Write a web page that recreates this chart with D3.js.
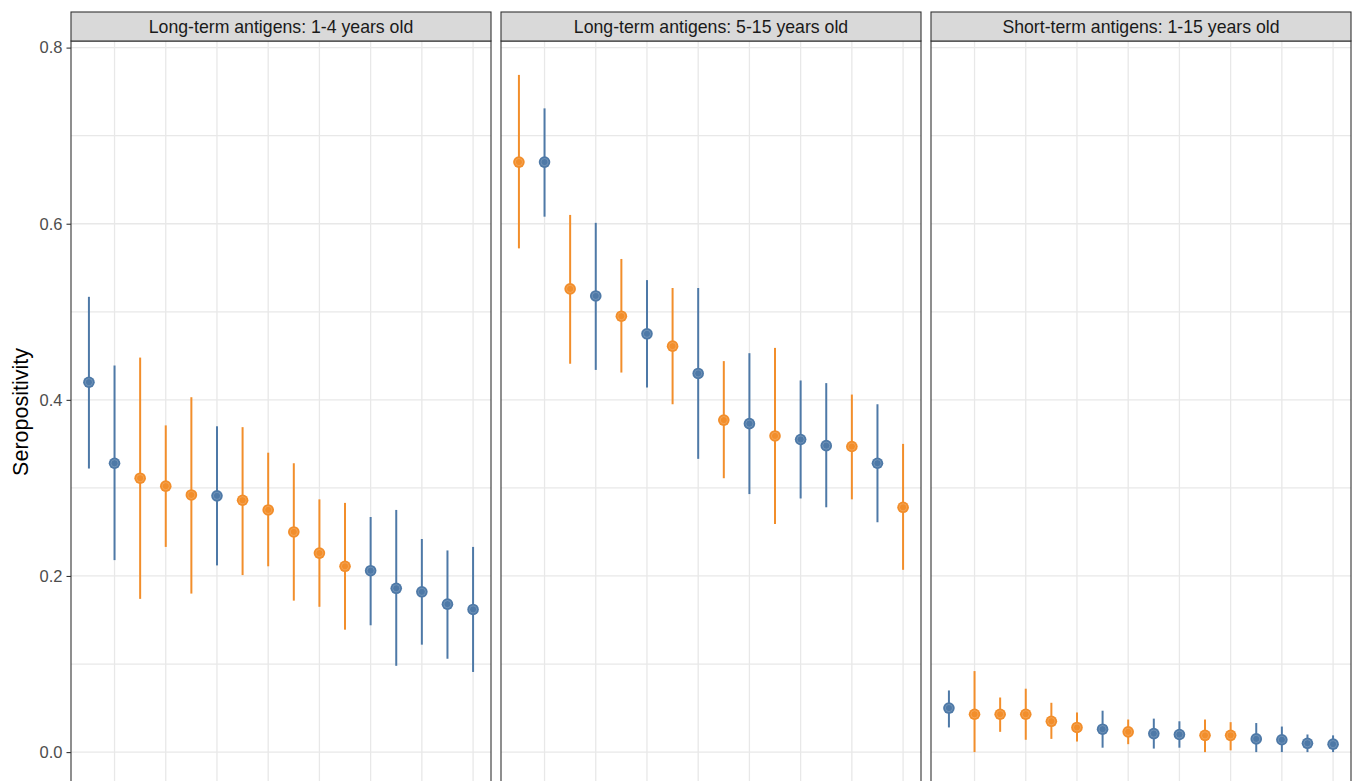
<!DOCTYPE html>
<html>
<head>
<meta charset="utf-8">
<script src="https://cdn.jsdelivr.net/npm/d3@7"></script>
<style>
  body { margin: 0; background: #fff; }
  svg { display: block; font-family: "Liberation Sans", Arial, sans-serif; }
</style>
</head>
<body>
<div id="chart"></div>
<script>
// facet titles
const facets = [
  "Long-term antigens: 1-4 years old",
  "Long-term antigens: 5-15 years old",
  "Short-term antigens: 1-15 years old"
];

// group of each point: "b" = blue, "o" = orange
const grp1 = ["b","b","o","o","o","b","o","o","o","o","o","b","b","b","b","b"];
const est1 = [0.420,0.328,0.311,0.302,0.292,0.291,0.286,0.275,0.250,0.226,0.211,0.206,0.186,0.182,0.168,0.162];
const lo1  = [0.322,0.218,0.174,0.233,0.180,0.212,0.201,0.211,0.172,0.165,0.139,0.144,0.098,0.122,0.106,0.091];
const hi1  = [0.517,0.439,0.448,0.371,0.403,0.370,0.369,0.340,0.328,0.287,0.283,0.267,0.275,0.242,0.229,0.233];

const grp2 = ["o","b","o","b","o","b","o","b","o","b","o","b","b","o","b","o"];
const est2 = [0.670,0.670,0.526,0.518,0.495,0.475,0.461,0.430,0.377,0.373,0.359,0.355,0.348,0.347,0.328,0.278];
const lo2  = [0.572,0.608,0.441,0.434,0.431,0.414,0.395,0.333,0.311,0.293,0.259,0.288,0.278,0.287,0.261,0.207];
const hi2  = [0.769,0.731,0.610,0.601,0.560,0.536,0.527,0.527,0.444,0.453,0.459,0.422,0.419,0.406,0.395,0.350];

const grp3 = ["b","o","o","o","o","o","b","o","b","b","o","o","b","b","b","b"];
const est3 = [0.050,0.043,0.043,0.043,0.035,0.028,0.026,0.023,0.021,0.020,0.019,0.019,0.015,0.014,0.010,0.009];
const lo3  = [0.028,0.000,0.023,0.014,0.015,0.012,0.005,0.009,0.004,0.005,0.000,0.002,0.000,0.000,0.000,0.000];
const hi3  = [0.070,0.092,0.062,0.072,0.056,0.045,0.047,0.037,0.038,0.035,0.037,0.034,0.033,0.029,0.020,0.019];

const yTicks = [0, 0.2, 0.4, 0.6, 0.8];

const panels = [
  {grp: grp1, est: est1, lo: lo1, hi: hi1},
  {grp: grp2, est: est2, lo: lo2, hi: hi2},
  {grp: grp3, est: est3, lo: lo3, hi: hi3}
];

const width = 1358, height = 781;
const panelTop = 41, panelBottom = 786;
const color = d3.scaleOrdinal().domain(["b","o"]).range(["#4e79a7","#f28e2b"]);

const svg = d3.select("#chart").append("svg")
  .attr("width", width)
  .attr("height", height);

const fx = d3.scaleBand().domain(facets).range([71, 1351]).paddingInner(10/430).paddingOuter(0);
const y = d3.scaleLinear().domain([-0.0385, 0.8075]).range([panelBottom, panelTop]);

panels.forEach((p, k) => {
  const x0 = fx(facets[k]);
  const x = d3.scaleLinear().domain([0.3, 16.7]).range([x0, x0 + fx.bandwidth()]);
  const g = svg.append("g");

  // grid
  g.selectAll("line.hg")
    .data(d3.range(0, 9).map(d => d / 10))
    .join("line")
    .attr("x1", x0).attr("x2", x0 + fx.bandwidth())
    .attr("y1", d => y(d)).attr("y2", d => y(d))
    .attr("stroke", "#e8e8e8").attr("stroke-width", 1.3);
  g.selectAll("line.vg")
    .data(d3.range(2, 17, 2))
    .join("line")
    .attr("x1", d => x(d)).attr("x2", d => x(d))
    .attr("y1", panelTop).attr("y2", panelBottom)
    .attr("stroke", "#e8e8e8").attr("stroke-width", 1.3);

  const idx = d3.range(p.est.length);
  g.selectAll("line.err")
    .data(idx)
    .join("line")
    .attr("x1", i => x(i + 1)).attr("x2", i => x(i + 1))
    .attr("y1", i => y(p.lo[i])).attr("y2", i => y(p.hi[i]))
    .attr("stroke", i => color(p.grp[i])).attr("stroke-width", 2);
  g.selectAll("circle.pt")
    .data(idx)
    .join("circle")
    .attr("cx", i => x(i + 1)).attr("cy", i => y(p.est[i]))
    .attr("r", 5.8)
    .attr("fill", i => color(p.grp[i]));
  // faint inner ring seen on the markers
  g.selectAll("circle.ring")
    .data(idx)
    .join("circle")
    .attr("cx", i => x(i + 1)).attr("cy", i => y(p.est[i]))
    .attr("r", 3.6)
    .attr("fill", "none")
    .attr("stroke", "#fff").attr("stroke-opacity", 0.18).attr("stroke-width", 1);

  // panel border
  g.append("rect")
    .attr("x", x0).attr("y", panelTop)
    .attr("width", fx.bandwidth()).attr("height", panelBottom - panelTop)
    .attr("fill", "none").attr("stroke", "#333").attr("stroke-width", 1.1);

  // strip
  g.append("rect")
    .attr("x", x0).attr("y", 12)
    .attr("width", fx.bandwidth()).attr("height", panelTop - 12)
    .attr("fill", "#d9d9d9").attr("stroke", "#333").attr("stroke-width", 1.1);
  g.append("text")
    .attr("x", x0 + fx.bandwidth() / 2).attr("y", 33)
    .attr("text-anchor", "middle")
    .attr("font-size", 17.7).attr("fill", "#1a1a1a")
    .text(facets[k]);
});

// y axis
const yAxis = svg.append("g")
  .attr("transform", "translate(71,0)")
  .call(d3.axisLeft(y).tickValues(yTicks).tickFormat(d3.format(".1f")).tickSize(4.5).tickPadding(4));
yAxis.select(".domain").remove();
yAxis.selectAll(".tick line").attr("stroke", "#333").attr("stroke-width", 1.1);
yAxis.selectAll(".tick text").attr("font-size", 16.5).attr("fill", "#4d4d4d")
  .attr("font-family", "Liberation Sans, Arial, sans-serif");

svg.append("text")
  .attr("transform", "translate(27.5,412) rotate(-90)")
  .attr("text-anchor", "middle")
  .attr("font-size", 21.5).attr("fill", "#000")
  .text("Seropositivity");
</script>
</body>
</html>
